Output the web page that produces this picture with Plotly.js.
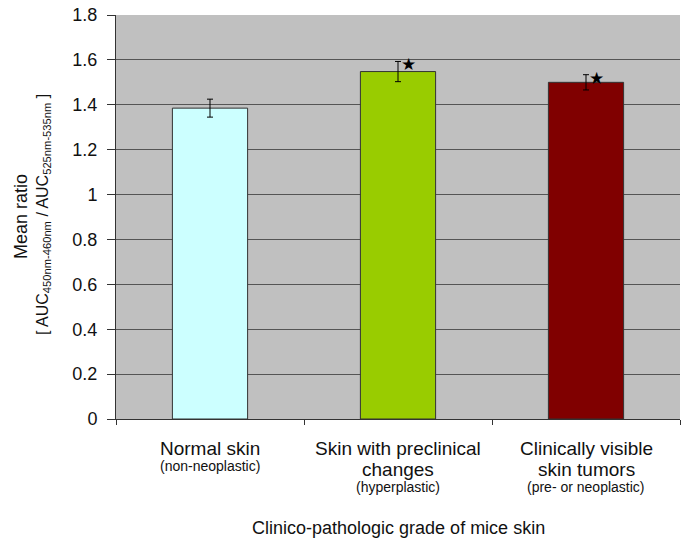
<!DOCTYPE html>
<html><head><meta charset="utf-8">
<script src="https://cdn.plot.ly/plotly-3.0.1.min.js"></script>
<style>html,body{margin:0;padding:0;background:#fff}</style>
</head><body><div id="plot" style="width:690px;height:551px"></div>
<script>
var categories = ["Normal skin", "Skin with preclinical<br>changes", "Clinically visible<br>skin tumors"];
var subLabels = ["(non-neoplastic)", "(hyperplastic)", "(pre- or neoplastic)"];
var meanRatio = [1.385, 1.548, 1.500];
var errorValues = [0.04, 0.045, 0.034];
var significant = [false, true, true];
var barColors = ["#ccffff", "#99cc00", "#800000"];
var yTicks = [0, 0.2, 0.4, 0.6, 0.8, 1, 1.2, 1.4, 1.6, 1.8];
var yTickText = ["0", "0.2", "0.4", "0.6", "0.8", "1", "1.2", "1.4", "1.6", "1.8"];
var xTitle = "Clinico-pathologic grade of mice skin";
var yTitleLine1 = "Mean ratio";
var yTitleLine2 = "[ AUC<sub>450nm-460nm</sub> / AUC<sub>525nm-535nm</sub> ]";

var xs = categories.map(function(_, i){ return i; });
var trace = {
  type: "bar", x: xs, y: meanRatio, width: 0.40,
  marker: {color: barColors, line: {color: "#333333", width: 1}},
  error_y: {type: "data", array: errorValues, visible: true, color: "#000", thickness: 1, width: 3},
  hoverinfo: "none"
};
var font = "Liberation Sans, Arial, sans-serif";
var plotBottom = 419;
function below(px){ return -(px - plotBottom); }
var annotations = [];
categories.forEach(function(c, i){
  var lines = c.split("<br>");
  lines.forEach(function(t, k){
    annotations.push({x: i, xref: "x", y: 0, yref: "paper", yanchor: "middle",
      yshift: below(448 + 21 * k), text: t, showarrow: false,
      font: {family: font, size: 19, color: "#111"}});
  });
  var subY = lines.length === 1 ? 466 : 487;
  annotations.push({x: i, xref: "x", y: 0, yref: "paper", yanchor: "middle",
    yshift: below(subY), text: subLabels[i], showarrow: false,
    font: {family: font, size: 14, color: "#111"}});
  if (significant[i]) {
    annotations.push({x: i, xref: "x", y: meanRatio[i] + errorValues[i], yref: "y",
      xshift: 10, yshift: -3, text: "\u2605", showarrow: false, yanchor: "middle",
      font: {family: "DejaVu Sans", size: 17, color: "#000"}});
  }
});
annotations.push({x: 0.5, xref: "paper", y: 0, yref: "paper", yanchor: "middle", yshift: below(528),
  text: xTitle, showarrow: false, font: {family: font, size: 18, color: "#111"}});
annotations.push({x: 0, xref: "paper", xshift: -(116 - 21), y: 0.5, yref: "paper", xanchor: "center",
  yanchor: "middle", textangle: -90, text: yTitleLine1, showarrow: false,
  font: {family: font, size: 18, color: "#111"}});
annotations.push({x: 0, xref: "paper", xshift: -(116 - 43), y: 0.5, yref: "paper", xanchor: "center",
  yanchor: "middle", yshift: 2, textangle: -90, text: yTitleLine2, showarrow: false,
  font: {family: font, size: 16, color: "#111"}});

var layout = {
  width: 690, height: 551,
  margin: {l: 116, r: 10, t: 15, b: 132},
  paper_bgcolor: "#ffffff", plot_bgcolor: "#c0c0c0",
  showlegend: false,
  font: {family: font, color: "#111"},
  xaxis: {range: [-0.5, 2.5], tickvals: [-0.5, 0.5, 1.5, 2.5], ticktext: ["", "", "", ""],
    ticks: "outside", ticklen: 5, tickcolor: "#333", showline: true, linecolor: "#333",
    showgrid: false, zeroline: false, fixedrange: true},
  yaxis: {range: [0, 1.8], tickvals: yTicks, ticktext: yTickText, ticks: "outside", ticklen: 8,
    tickcolor: "#333", showline: true, linecolor: "#333", showgrid: true, gridcolor: "#555555",
    gridwidth: 1, zeroline: false, ticklabelstandoff: 6,
    tickfont: {family: font, size: 18, color: "#111"}},
  annotations: annotations
};
Plotly.newPlot("plot", [trace], layout, {displayModeBar: false, staticPlot: true});
</script></body></html>
